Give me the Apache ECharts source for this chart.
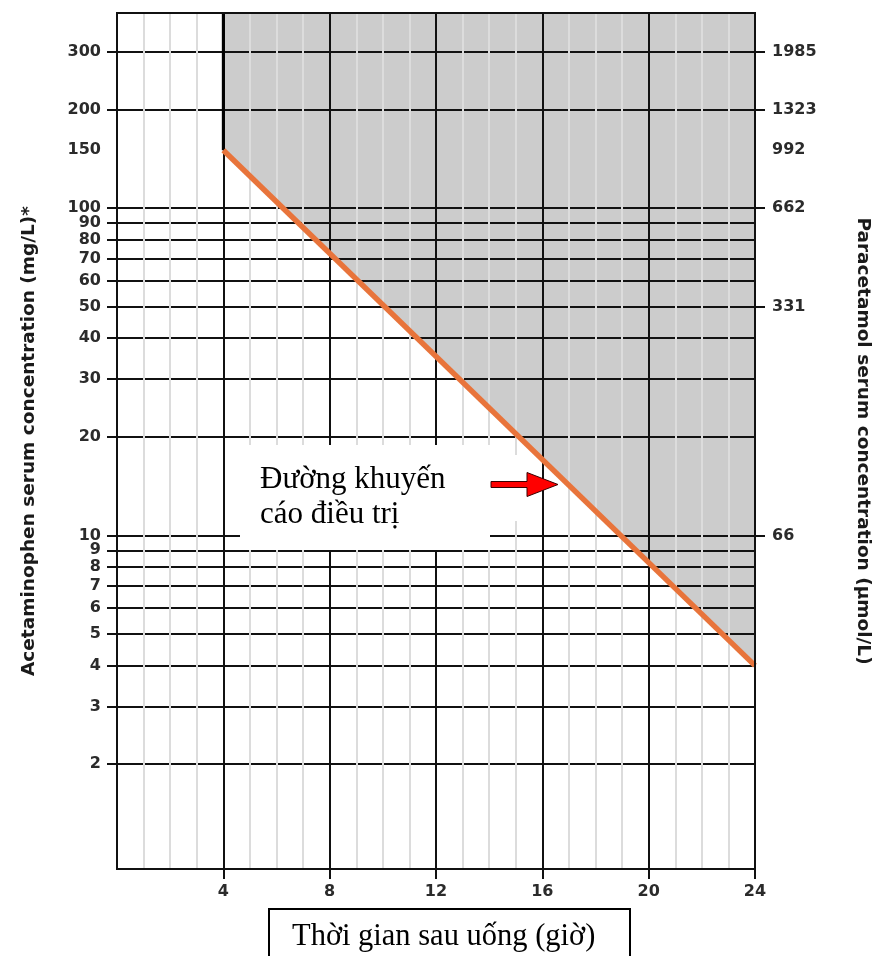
<!DOCTYPE html>
<html><head><meta charset="utf-8">
<script src="https://cdn.jsdelivr.net/npm/echarts@6/dist/echarts.min.js"></script>
<style>html,body{margin:0;padding:0;background:#fff}#c{width:873px;height:956px}</style>
</head><body><div id="c"></div>
<script>
// ---- data ----
const lineHours = [4, 24];                 // hours after ingestion
const lineValues = [150, 4];               // treatment line (mg/L)
const xLabelValues = [4, 8, 12, 16, 20, 24];
const leftTickValues = [2,3,4,5,6,7,8,9,10,20,30,40,50,60,70,80,90,100,200,300];
const leftLabelValues = [2,3,4,5,6,7,8,9,10,20,30,40,50,60,70,80,90,100,150,200,300];
const rightTickValues = [10, 50, 100, 200, 300];
const rightLabelValues = [10, 50, 100, 150, 200, 300];
const rightLabels = ['66', '331', '662', '992', '1323', '1985'];
const yMin = 0.957, yMax = 394;

const linePts = lineHours.map((h, i) => [h, lineValues[i]]);
const thresholdPts = [[lineHours[0], lineValues[0]], [lineHours[0], yMax]];

const lblFont = {fontFamily: 'DejaVu Sans', fontWeight: 'bold', fontSize: 16, color: '#2b2b2b'};
const nameFont = {fontFamily: 'DejaVu Sans', fontWeight: 'bold', fontSize: 18.5, color: '#1a1a1a'};

const chart = echarts.init(document.getElementById('c'), null, {renderer: 'canvas'});
chart.setOption({
  animation: false,
  backgroundColor: '#fff',
  grid: {left: 117, right: 118, top: 13, bottom: 87, show: true, borderColor: '#111', borderWidth: 2,
         backgroundColor: 'transparent', z: 6, outerBoundsMode: 'none', containLabel: false},
  xAxis: {
    type: 'value', min: 0, max: 24, interval: 4, z: 2,
    axisLine: {show: false},
    axisTick: {show: true, length: 10, customValues: xLabelValues, lineStyle: {color: '#111', width: 2}},
    axisLabel: {show: true, customValues: xLabelValues, margin: 15, ...lblFont},
    splitLine: {show: true, lineStyle: {color: '#111', width: 2}},
    minorTick: {show: false, splitNumber: 4},
    minorSplitLine: {show: true, lineStyle: {color: '#dcdcdc', width: 2}}
  },
  yAxis: [{
    type: 'log', min: yMin, max: yMax, position: 'left', z: 2,
    name: 'Acetaminophen serum concentration (mg/L)*', nameLocation: 'middle', nameRotate: 90, nameGap: 78,
    nameTextStyle: nameFont,
    axisLine: {show: false},
    axisTick: {show: true, length: 10, customValues: leftTickValues, lineStyle: {color: '#111', width: 2}},
    axisLabel: {show: true, customValues: leftLabelValues, margin: 16, ...lblFont},
    splitLine: {show: true, lineStyle: {color: '#111', width: 2}},
    minorSplitLine: {show: false}
  }, {
    type: 'log', min: yMin, max: yMax, position: 'right', z: 2,
    name: 'Paracetamol serum concentration (µmol/L)', nameLocation: 'middle', nameRotate: -90, nameGap: 98,
    nameTextStyle: nameFont,
    axisLine: {show: false},
    axisTick: {show: true, length: 10, customValues: rightTickValues, lineStyle: {color: '#111', width: 2}},
    axisLabel: {show: true, customValues: rightLabelValues, margin: 17, ...lblFont,
      formatter: v => {
        for (let i = 0; i < rightLabelValues.length; i++) if (Math.abs(rightLabelValues[i] - v) < 1e-6 * v) return rightLabels[i];
        return '';
      }},
    splitLine: {show: false}
  }],
  series: [
    {type: 'line', name: 'fill', data: linePts, symbol: 'none', z: 1, silent: true,
     lineStyle: {width: 0}, areaStyle: {color: '#cccccc', opacity: 1, origin: 'end'}},
    {type: 'line', name: 'threshold', data: thresholdPts, symbol: 'none', z: 4, silent: true,
     lineStyle: {color: '#000', width: 3}},
    {type: 'line', name: 'treatment', data: linePts, symbol: 'none', z: 5, silent: true,
     lineStyle: {color: '#E8743B', width: 5.5, cap: 'butt'}}
  ],
  graphic: [
    {type: 'rect', z: 4, shape: {x: 490, y: 455, width: 48, height: 66}, style: {fill: '#fff'}},
    {type: 'rect', z: 10, shape: {x: 240, y: 445, width: 250, height: 105}, style: {fill: '#fff'}},
    {type: 'text', z: 11, x: 260, y: 480, style: {text: 'Đường khuyến', fontFamily: 'Liberation Serif', fontSize: 31, fill: '#000', verticalAlign: 'middle'}},
    {type: 'text', z: 11, x: 260, y: 515, style: {text: 'cáo điều trị', fontFamily: 'Liberation Serif', fontSize: 31, fill: '#000', verticalAlign: 'middle'}},
    {type: 'polygon', z: 6, shape: {points: [[491,481.5],[527,481.5],[527,472.5],[558,484.5],[527,496.5],[527,487.5],[491,487.5]]},
     style: {fill: '#ff0000', stroke: '#3a0000', lineWidth: 1}},
    {type: 'rect', z: 10, shape: {x: 269, y: 909, width: 361, height: 70}, style: {fill: '#fff', stroke: '#000', lineWidth: 2}},
    {type: 'text', z: 11, x: 292, y: 937, style: {text: 'Thời gian sau uống (giờ)', fontFamily: 'Liberation Serif', fontSize: 30.5, fill: '#000', verticalAlign: 'middle'}}
  ]
});
</script></body></html>
